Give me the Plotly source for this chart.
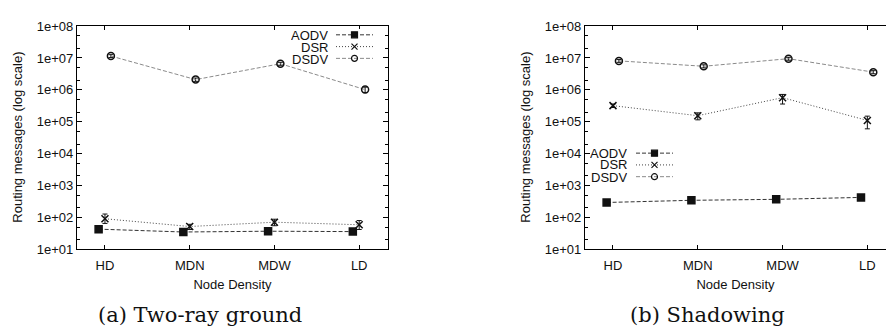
import plotly.graph_objects as go

# ---------------- data ----------------
categories = ["HD", "MDN", "MDW", "LD"]
protocols = ["AODV", "DSR", "DSDV"]

# (a) Two-ray ground
tr_aodv = [43, 35, 37, 36]
tr_aodv_up = [3, 3, 3, 3]
tr_aodv_dn = [3, 3, 3, 3]
tr_dsr = [91, 52, 71, 59]
tr_dsr_up = [37, 9, 17, 21]
tr_dsr_dn = [26, 10, 16, 17]
tr_dsdv = [1.15e7, 2.1e6, 6.6e6, 1.02e6]
tr_dsdv_up = [1.2e6, 2.5e5, 7e5, 2.0e5]
tr_dsdv_dn = [1.2e6, 2.5e5, 7e5, 2.0e5]

# (b) Shadowing
sh_aodv = [295, 345, 370, 425]
sh_aodv_up = [35, 70, 30, 40]
sh_aodv_dn = [35, 60, 30, 40]
sh_dsr = [3.2e5, 1.55e5, 5.7e5, 1.1e5]
sh_dsr_up = [4e4, 3.5e4, 1.5e5, 4e4]
sh_dsr_dn = [4e4, 4e4, 2.1e5, 5e4]
sh_dsdv = [8.1e6, 5.5e6, 9.5e6, 3.6e6]
sh_dsdv_up = [8e5, 6e5, 1.0e6, 4e5]
sh_dsdv_dn = [8e5, 6e5, 1.0e6, 4e5]

ytick_vals = [1e1, 1e2, 1e3, 1e4, 1e5, 1e6, 1e7, 1e8]
ytick_text = ["1e+01", "1e+02", "1e+03", "1e+04", "1e+05", "1e+06", "1e+07", "1e+08"]

captions = ["(a) Two-ray ground", "(b) Shadowing"]
xtitle = "Node Density"
ytitle = "Routing messages (log scale)"

# ---------------- layout helpers ----------------
W, H = 886, 327
FONT = "Liberation Sans"
FS = 13

def px_x(v):
    return v / W

def px_y(v):
    return 1 - v / H

styles = {
    "AODV": dict(dash="4px,2px", color="#333333", symbol="square", msize=7, off=-0.075),
    "DSR": dict(dash="1px,2px", color="#444444", symbol="x-thin", msize=7, off=0.0),
    "DSDV": dict(dash="4px,2px", color="#8a8a8a", symbol="circle-open", msize=7, off=0.07),
}

panels = [
    dict(data={"AODV": (tr_aodv, tr_aodv_up, tr_aodv_dn),
               "DSR": (tr_dsr, tr_dsr_up, tr_dsr_dn),
               "DSDV": (tr_dsdv, tr_dsdv_up, tr_dsdv_dn)},
         dom=(77, 388), xr=(-0.33, 3.34), mirror_y=True,
         ytitle_x=18, cap_x=200,
         leg_text_x=329, leg_line=(336, 373), leg_rows=(29, 42, 54)),
    dict(data={"AODV": (sh_aodv, sh_aodv_up, sh_aodv_dn),
               "DSR": (sh_dsr, sh_dsr_up, sh_dsr_dn),
               "DSDV": (sh_dsdv, sh_dsdv_up, sh_dsdv_dn)},
         dom=(585, 886), xr=(-0.33, 3.22), mirror_y=False,
         ytitle_x=526, cap_x=707,
         leg_text_x=628, leg_line=(636, 673), leg_rows=(153, 165, 178)),
]

PLOT_TOP, PLOT_BOT = 20, 254

fig = go.Figure()
annotations = []
minor_vals = []
for k in range(1, 8):
    minor_vals += [2 * 10 ** k, 5 * 10 ** k]

for i, p in enumerate(panels):
    n = i + 1
    xa = "x" if n == 1 else f"x{n}"
    ya = "y" if n == 1 else f"y{n}"
    for name in protocols:
        st = styles[name]
        vals, up, dn = p["data"][name]
        xs = [j + st["off"] for j in range(len(categories))]
        fig.add_trace(go.Scatter(
            x=xs, y=vals, mode="lines+markers", name=name, showlegend=False,
            xaxis=xa, yaxis=ya,
            line=dict(color=st["color"], width=1, dash=st["dash"]),
            marker=dict(symbol=st["symbol"], size=st["msize"], color="#111111",
                        line=dict(color="#111111", width=1.5)),
            error_y=dict(type="data", symmetric=False, array=up, arrayminus=dn,
                         color="#111111", thickness=1, width=2.5),
        ))
    common_axis = dict(showline=True, linecolor="black", linewidth=1.2,
                       ticks="inside", tickcolor="black", showgrid=False, zeroline=False,
                       tickfont=dict(family=FONT, size=FS, color="#111"))
    fig.layout[f"xaxis{'' if n == 1 else n}"] = dict(
        domain=[px_x(p["dom"][0]), px_x(p["dom"][1])], range=list(p["xr"]),
        tickmode="array", tickvals=list(range(len(categories))), ticktext=categories,
        ticklen=4, mirror="ticks", anchor=ya, ticklabelstandoff=4,
        title=dict(text=xtitle, font=dict(family=FONT, size=FS, color="#111"), standoff=7),
        **common_axis)
    fig.layout[f"yaxis{'' if n == 1 else n}"] = dict(
        domain=[px_y(PLOT_BOT), px_y(PLOT_TOP)], type="log", range=[1, 8],
        tickmode="array", tickvals=ytick_vals, ticktext=ytick_text, ticklen=5,
        minor=dict(tickmode="array", tickvals=minor_vals, ticks="inside", ticklen=2.5,
                   tickcolor="black", showgrid=False),
        mirror="ticks" if p["mirror_y"] else False, anchor=xa,
        **common_axis)
    annotations.append(dict(text=ytitle, textangle=-90, xref="paper", yref="paper",
                            x=px_x(p["ytitle_x"]), y=px_y((PLOT_TOP + PLOT_BOT) / 2),
                            showarrow=False, font=dict(family=FONT, size=FS, color="#111"),
                            xanchor="center", yanchor="middle"))
    annotations.append(dict(text=captions[i], xref="paper", yref="paper",
                            x=px_x(p["cap_x"]), y=px_y(323), showarrow=False,
                            font=dict(family="DejaVu Serif, serif", size=21, color="#111"),
                            xanchor="center", yanchor="middle"))

    # custom gnuplot-style key: text right-aligned, sample on the right
    lx = 2 + n
    lxa = f"x{lx}"
    lya = f"y{lx}"
    rows = p["leg_rows"]
    fig.layout[f"xaxis{lx}"] = dict(domain=[px_x(p["leg_line"][0]), px_x(p["leg_line"][1])],
                                    range=[0, 1], visible=False, anchor=lya)
    fig.layout[f"yaxis{lx}"] = dict(domain=[px_y(rows[-1] + 6), px_y(rows[0] - 6)],
                                    range=[len(protocols) - 0.5, -0.5], visible=False, anchor=lxa)
    for r, name in enumerate(protocols):
        st = styles[name]
        fig.add_trace(go.Scatter(x=[0, 1], y=[r, r], mode="lines", showlegend=False,
                                 xaxis=lxa, yaxis=lya, hoverinfo="skip",
                                 line=dict(color=st["color"], width=1, dash=st["dash"])))
        fig.add_trace(go.Scatter(x=[0.5], y=[r], mode="markers", showlegend=False,
                                 xaxis=lxa, yaxis=lya, hoverinfo="skip",
                                 marker=dict(symbol=st["symbol"], size=st["msize"] - 1,
                                             color="#111111",
                                             line=dict(color="#111111", width=1.2))))
        annotations.append(dict(text=name, xref="paper", yref="paper",
                                x=px_x(p["leg_text_x"]), y=px_y(rows[r]), showarrow=False,
                                font=dict(family=FONT, size=FS, color="#111"),
                                height=12, valign="middle", borderpad=0,
                                xanchor="right", yanchor="middle"))

fig.update_layout(width=W, height=H, margin=dict(l=0, r=0, t=0, b=0),
                  paper_bgcolor="white", plot_bgcolor="white",
                  annotations=annotations, showlegend=False)

fig.write_html("out.html")
